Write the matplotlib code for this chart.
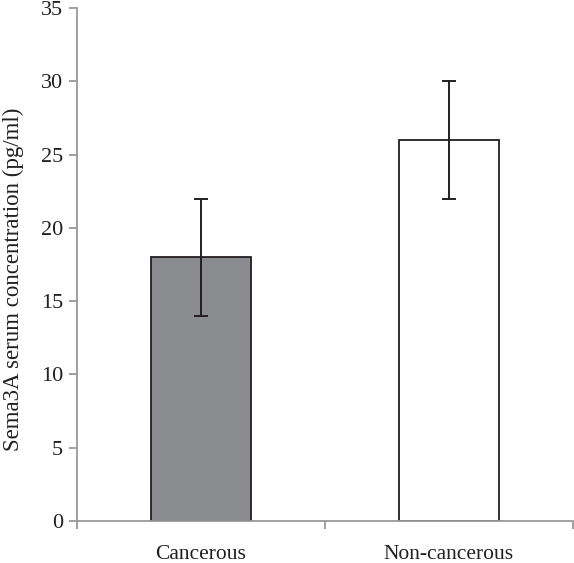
import matplotlib
matplotlib.use("Agg")
import matplotlib.pyplot as plt

categories = ["Cancerous", "Non-cancerous"]
means = [18, 26]
errors = [4, 4]
bar_colors = ["#8b8c90", "#ffffff"]
y_ticks = [0, 5, 10, 15, 20, 25, 30, 35]
y_label = "Sema3A serum concentration (pg/ml)"

plt.rcParams['font.family'] = ['Liberation Serif', 'DejaVu Serif']

fig = plt.figure(figsize=(5.74, 5.63), dpi=100)
ax = fig.add_axes([77/574, 42/563, 496/574, 513/563])

x = list(range(len(categories)))
ax.bar(x, means, width=0.4, color=bar_colors, edgecolor="#231f20", linewidth=1.3, zorder=2)
ax.errorbar(x, means, yerr=errors, fmt="none", ecolor="#231f20", elinewidth=1.4,
            capsize=4.7, capthick=1.4, zorder=3)

ax.set_xlim(-0.5, 1.5)
ax.set_ylim(0, 35)
ax.set_yticks(y_ticks)
ax.set_yticklabels([str(t) for t in y_ticks], fontsize=16, color="#231f20")

# x ticks at category boundaries, labels at centers
ax.set_xticks([-0.5, 0.5, 1.5])
ax.set_xticklabels([])
ax.set_xticks(x, minor=True)
ax.set_xticklabels(categories, minor=True, fontsize=15.5, color="#231f20")
ax.tick_params(axis="x", which="minor", length=0, pad=17)
ax.tick_params(axis="x", which="major", length=6, width=1.3, color="#999999", direction="out")
ax.tick_params(axis="y", length=6, width=1.3, color="#999999", direction="out", pad=4)

for s in ["top", "right"]:
    ax.spines[s].set_visible(False)
for s in ["left", "bottom"]:
    ax.spines[s].set_color("#999999")
    ax.spines[s].set_linewidth(1.3)

ax.set_ylabel(y_label, fontsize=16.5, color="#231f20")
ax.yaxis.set_label_coords(-0.106, 0.472)

fig.savefig("out.png", dpi=100)
